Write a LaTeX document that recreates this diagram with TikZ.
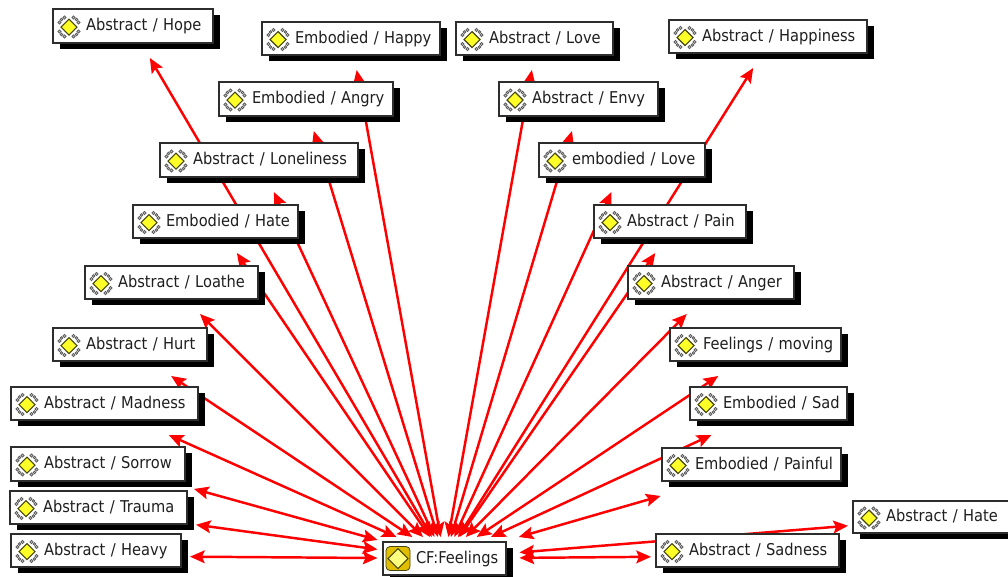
\documentclass[tikz,border=0pt]{standalone}
\usepackage{fontspec}
\setmainfont{DejaVu Sans Condensed}
\usetikzlibrary{arrows.meta,shadows,backgrounds}
\definecolor{edgeRed}{RGB}{255,0,0}
\definecolor{boxLine}{RGB}{45,45,45}
\definecolor{iconYellow}{RGB}{255,255,40}
\definecolor{iconEdge}{RGB}{70,70,15}
\definecolor{iconGold}{RGB}{225,190,0}
\tikzset{
  x=0.75pt,y=-0.75pt,
  boxnode/.style={draw=boxLine,fill=white,line width=0.8pt,inner sep=0pt,outer sep=0pt,
    general shadow={fill=black,shadow xshift=5.25pt,shadow yshift=-4.5pt},
    font=\fontsize{12.2}{14}\selectfont,text=black!88,align=left,text height=8pt,text depth=1.2pt},
  link/.style={draw=edgeRed,line width=1.85pt,
    {Stealth[length=11pt,width=9.5pt,inset=2pt]}-{Stealth[length=11pt,width=9.5pt,inset=2pt]}},
  iconleaf/.style={draw=black!65,fill=black!25,line width=0.55pt},
  icondiamond/.style={draw=iconEdge,fill=iconYellow,line width=0.8pt},
}
% small icon: yellow diamond with grey knots at its four diagonal sides
\newcommand\leaficon[2]{%
  \foreach \kx in {-1,1}{\foreach \ky in {-1,1}{%
    \path[iconleaf] (#1+\kx*4.5,#2+\ky*9.5) circle[radius=1.2pt];
    \path[iconleaf] (#1+\kx*9.5,#2+\ky*4.5) circle[radius=1.2pt];
    \path[iconleaf] (#1+\kx*7.5,#2+\ky*7.5) circle[radius=1pt];
  }}%
  \path[icondiamond] (#1-8,#2) -- (#1,#2-8) -- (#1+8,#2) -- (#1,#2+8) -- cycle;
}
\begin{document}
\begin{tikzpicture}
\useasboundingbox (0,0) rectangle (1008,576);
% centre node
\node[boxnode,minimum width=92.25pt,minimum height=24.75pt,text width=92.25pt] (cf) at (444.5,558.5) {\hspace*{24.75pt}CF:Feelings};
\path[draw=iconEdge,fill=iconGold,line width=0.6pt,rounded corners=3pt] (386,546.5) rectangle (410,570.5);
\path[draw=iconEdge,fill=iconYellow!60!white,line width=0.8pt] (388,558.5) -- (398,548.5) -- (408,558.5) -- (398,568.5) -- cycle;
% term nodes: name / left / right / top / bottom / aim offset x / aim offset y / text
\foreach \n/\l/\r/\t/\b/\ox/\oy/\txt in {
  hope/53/213/9/43/-2/0/{Abstract / Hope},
  happy/262/440/22/55/0/0/{Embodied / Happy},
  love/456/613/22/55/3/0/{Abstract / Love},
  happiness/669/867/20/53/5/0/{Abstract / Happiness},
  angry/219/393/82/116/-2/0/{Embodied / Angry},
  envy/499/658/82/116/3/0/{Abstract / Envy},
  lonely/160/358/143/177/0/0/{Abstract / Loneliness},
  elove/539/705/143/177/4/0/{embodied / Love},
  ehate/133/298/205/238/0/0/{Embodied / Hate},
  pain/594/746/205/238/7/0/{Abstract / Pain},
  loathe/85/258/266/299/-3/0/{Abstract / Loathe},
  anger/628/794/266/299/7/0/{Abstract / Anger},
  hurt/53/207/328/361/-6/0/{Abstract / Hurt},
  moving/670/841/328/361/10/0/{Feelings / moving},
  madness/11/198/387/420/-6/0/{Abstract / Madness},
  sad/690/847/387/420/11/0/{Embodied / Sad},
  sorrow/11/185/447/481/-1/-2/{Abstract / Sorrow},
  painful/662/841/448/481/18/0/{Embodied / Painful},
  trauma/10/187/491/524/0/4/{Abstract / Trauma},
  hate/853/1010/501/533/0/2/{Abstract / Hate},
  heavy/11/181/534/567/0/5.5/{Abstract / Heavy},
  sadness/656/839/534/567/0/5.5/{Abstract / Sadness}}{
  \pgfmathsetmacro\cx{(\l+\r)/2}
  \pgfmathsetmacro\cy{(\t+\b)/2}
  \pgfmathsetmacro\wpt{(\r-\l)*0.75}
  \pgfmathsetmacro\hpt{(\b-\t)*0.75}
  \node[boxnode,minimum width=\wpt pt,minimum height=\hpt pt,text width=\wpt pt] (\n) at (\cx,\cy) {\hspace*{24.75pt}\txt};
  \leaficon{\l+16}{\cy+1}
  % connector, stopped short of both boxes
  \pgfmathsetmacro\dx{\cx+\ox-444.5}
  \pgfmathsetmacro\dy{\cy+\oy-558.5}
  \pgfmathsetmacro\len{veclen(\dx,\dy)}
  \pgfmathsetmacro\hw{(\r-\l)/2}
  \pgfmathsetmacro\hh{(\b-\t)/2}
  \pgfmathsetmacro\ax{abs(\dx)}
  \pgfmathsetmacro\ay{max(abs(\dy),0.5)}
  \pgfmathsetmacro\ex{\dx<0 ? \hw+9-\ox : \hw+5+\ox}
  \pgfmathsetmacro\ey{\dy<0 ? \hh+15-\oy : \hh+5+\oy}
  \pgfmathsetmacro\send{min(\ex/\ax,\ey/\ay)*\len*0.75}
  \pgfmathsetmacro\fx{\dx>0 ? 75 : 67}
  \pgfmathsetmacro\fy{\dy<0 ? 21.5 : 32}
  \pgfmathsetmacro\sstart{min(\fx/\ax,\fy/\ay)*\len*0.75}
  \begin{pgfonlayer}{background}
    \draw[link,shorten >=\send pt,shorten <=\sstart pt] (cf.center) -- ([shift={(\ox,\oy)}]\n.center);
  \end{pgfonlayer}
}
\end{tikzpicture}
\end{document}
